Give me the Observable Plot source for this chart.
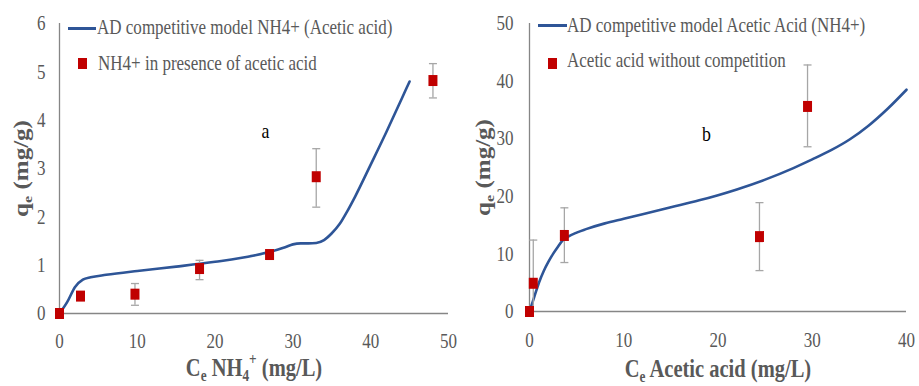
<!DOCTYPE html>
<html><head><meta charset="utf-8">
<script src="https://cdn.jsdelivr.net/npm/d3@7"></script>
<script src="https://cdn.jsdelivr.net/npm/@observablehq/plot@0.6"></script>
<style>
body{margin:0;background:#fff;}
#wrap{position:relative;width:919px;height:386px;display:flex;overflow:hidden;font-family:"Liberation Serif","Tinos","Times New Roman","DejaVu Serif",serif;}
#wrap svg{display:block;flex:none;}
.leg{position:absolute;font-size:21px;line-height:21px;color:#595959;white-space:nowrap;transform:scaleX(0.81);transform-origin:0 0;}
.ls{position:absolute;height:3px;background:#2e5597;}
.sq{position:absolute;width:9px;height:11px;background:#c00000;}
</style></head><body><div id="wrap"></div>
<script>
// ---- Panel a : NH4+ in presence of acetic acid ----
const aModelX = [0,1,2,3,4,6,10,15,20,25,28,29,30,31,32,33,34,35,36,37,38,40,42,44,45];
const aModelY = [0,0.24,0.55,0.7,0.75,0.8,0.88,0.97,1.07,1.2,1.32,1.37,1.43,1.45,1.45,1.46,1.52,1.66,1.85,2.12,2.42,3.08,3.75,4.45,4.8];
const aPointX = [0,2.7,9.7,18,27,33,48];
const aPointY = [0,0.36,0.40,0.93,1.22,2.83,4.82];
const aErrLo  = [0,0.36,0.17,0.70,1.20,2.20,4.46];
const aErrHi  = [0,0.36,0.62,1.10,1.24,3.41,5.17];
const aXTicks = [0,10,20,30,40,50];
const aYTicks = [0,1,2,3,4,5,6];
const aLegend = ["AD competitive model NH4+ (Acetic acid)","NH4+ in presence of acetic acid"];

// ---- Panel b : Acetic acid ----
const bModelX = [0,0.5,1,1.5,2,2.5,3,3.5,4,5,6,8,10,12,15,18,20,22,25,28,30,32,34,36,38,40];
const bModelY = [0,2.5,5.0,7.0,8.6,10.0,11.2,12.3,12.9,13.7,14.3,15.3,16.1,16.9,18.1,19.3,20.2,21.2,22.9,24.9,26.4,28.0,29.9,32.3,35.2,38.5];
const bPointX = [0,0.4,3.7,24.4,29.5];
const bPointY = [0,4.9,13.2,13.0,35.6];
const bErrLo  = [0,-2.6,8.5,7.1,28.6];
const bErrHi  = [0,12.4,18.0,18.9,42.8];
const bXTicks = [0,10,20,30,40];
const bYTicks = [0,10,20,30,40,50];
const bLegend = ["AD competitive model Acetic Acid (NH4+)","Acetic acid without competition"];

const FONT = "'Liberation Serif', Tinos, 'Times New Roman', 'DejaVu Serif', serif";
const COL_LINE="#2e5597", COL_PT="#c00000", COL_ERR="#a6a6a6", COL_AX="#868686", COL_TXT="#595959";
const square = {draw(ctx){ctx.rect(-4.5,-5.5,9,11);}};
const cap = {draw(ctx){ctx.moveTo(-4,0);ctx.lineTo(4,0);}};
const fmt = d3.format("d");

function panel(o){
  const line = o.lineX.map((x,i)=>({x, y:o.lineY[i]}));
  const pts = o.ptX.map((x,i)=>({x, y:o.ptY[i], lo:o.lo[i], hi:o.hi[i]}));
  return Plot.plot({
    width:o.width, height:386, marginLeft:o.ml, marginRight:o.mr, marginTop:o.mt, marginBottom:o.mb,
    style:{fontFamily:FONT, fontSize:"21px", color:COL_TXT, background:"transparent", overflow:"visible"},
    x:{domain:o.xDom, ticks:o.xTicks, tickFormat:fmt, tickSize:0, tickPadding:o.xtp, label:null},
    y:{domain:o.yDom, ticks:o.yTicks, tickFormat:fmt, tickSize:0, tickPadding:o.ytp, label:null},
    marks:[
      Plot.ruleY([0],{stroke:COL_AX, strokeWidth:1.3}),
      Plot.ruleX([0],{stroke:COL_AX, strokeWidth:1.3}),
      Plot.line(line,{x:"x", y:"y", stroke:COL_LINE, strokeWidth:2.6, curve:"monotone-x"}),
      Plot.ruleX(pts,{x:"x", y1:"lo", y2:"hi", stroke:COL_ERR, strokeWidth:1.3, clip:true}),
      Plot.dot(pts,{x:"x", y:"lo", symbol:cap, stroke:COL_ERR, strokeWidth:1.3, fill:"none", clip:true}),
      Plot.dot(pts,{x:"x", y:"hi", symbol:cap, stroke:COL_ERR, strokeWidth:1.3, fill:"none", clip:true}),
      Plot.dot(pts,{x:"x", y:"y", symbol:square, fill:COL_PT, stroke:"none"}),
      Plot.text([o.letter],{text:d=>d, frameAnchor:"top-left", dx:o.ldx, dy:o.ldy, lineAnchor:"bottom", textAnchor:"middle", fill:"#000", fontSize:22}),
      Plot.text([o.xTitle],{text:d=>d, frameAnchor:"bottom", dy:o.xdy, lineAnchor:"bottom", textAnchor:"middle", fontWeight:"bold", fontSize:25, fill:COL_TXT}),
      Plot.text([o.yTitle],{text:d=>d, frameAnchor:"left", dx:o.ydx, rotate:-90, lineAnchor:"bottom", textAnchor:"middle", fontWeight:"bold", fontSize:25, fill:COL_TXT})
    ]
  });
}

// sub/superscript markup -> tspans, then compress the glyphs horizontally on screen
function richify(svg, s){
  svg.querySelectorAll("text").forEach(t=>{
    const str=t.textContent; if(!/[_^]\{/.test(str)) return;
    const B=parseFloat(getComputedStyle(t).fontSize);
    t.textContent="";
    t.setAttribute("data-rich","1");
    const re=/([_^])\{([^}]*)\}|([^_^]+)/g; let m, off=0;
    while((m=re.exec(str))){
      const ts=document.createElementNS("http://www.w3.org/2000/svg","tspan");
      let target, txt, size=null;
      if(m[3]!==undefined){txt=m[3]; target=0;}
      else {txt=m[2]; target = m[1]==="_" ? 0.22*B : -0.42*B; size=0.65*B;}
      const d=target-off; if(d) ts.setAttribute("dy",d); off=target;
      if(size) ts.setAttribute("font-size",size);
      ts.textContent=txt; t.appendChild(ts);
    }
    const tr=t.getAttribute("transform");
    if(tr){
      t.setAttribute("transform", tr + (/rotate/.test(tr) ? ` scale(1,${s})` : ` scale(${s},1)`));
    } else {
      const x=+(t.getAttribute("x")||0), y=+(t.getAttribute("y")||0);
      t.setAttribute("transform", `translate(${x},${y}) scale(${s},1) translate(${-x},${-y})`);
    }
  });
}
function squeeze(svg,s){
  svg.querySelectorAll("text").forEach(t=>{
    if(t.getAttribute("data-rich")) return;
    const L=t.getComputedTextLength();
    if(L>0){t.setAttribute("textLength",L*s); t.setAttribute("lengthAdjust","spacingAndGlyphs");}
  });
}

const wrap=document.getElementById("wrap");
const pa = panel({width:460, ml:59, mr:12, mt:23, mb:73, xDom:[0,50], yDom:[0,6], xTicks:aXTicks, yTicks:aYTicks,
  lineX:aModelX, lineY:aModelY, ptX:aPointX, ptY:aPointY, lo:aErrLo, hi:aErrHi, xtp:20, ytp:14,
  letter:"a", ldx:206, ldy:114, xTitle:"C_{e} NH_{4}^{+} (mg/L)", xdy:62, yTitle:"q_{e} (mg/g)", ydx:-32});
const pb = panel({width:459, ml:69, mr:13, mt:23, mb:75, xDom:[0,40], yDom:[0,50], xTicks:bXTicks, yTicks:bYTicks,
  lineX:bModelX, lineY:bModelY, ptX:bPointX, ptY:bPointY, lo:bErrLo, hi:bErrHi, xtp:21, ytp:16,
  letter:"b", ldx:177, ldy:117, xTitle:"C_{e} Acetic acid (mg/L)", xdy:65, yTitle:"q_{e} (mg/g)", ydx:-40});
wrap.appendChild(pa); wrap.appendChild(pb);
[pa,pb].forEach(svg=>{richify(svg,0.82); squeeze(svg,0.81);});

function legend(items){
  items.forEach(it=>{
    const d=document.createElement("div");
    d.className=it.cls; Object.assign(d.style,it.style);
    if(it.text) d.textContent=it.text;
    wrap.appendChild(d);
  });
}
legend([
  {cls:"ls", style:{left:"68px", top:"27px", width:"28px"}},
  {cls:"leg", style:{left:"97px", top:"17.4px"}, text:aLegend[0]},
  {cls:"sq", style:{left:"77.5px", top:"57.5px"}},
  {cls:"leg", style:{left:"98px", top:"53.4px"}, text:aLegend[1]},
  {cls:"ls", style:{left:"538px", top:"24px", width:"29px"}},
  {cls:"leg", style:{left:"567px", top:"15.4px"}, text:bLegend[0]},
  {cls:"sq", style:{left:"547.5px", top:"57.5px"}},
  {cls:"leg", style:{left:"567px", top:"50.4px"}, text:bLegend[1]}
]);
</script></body></html>
